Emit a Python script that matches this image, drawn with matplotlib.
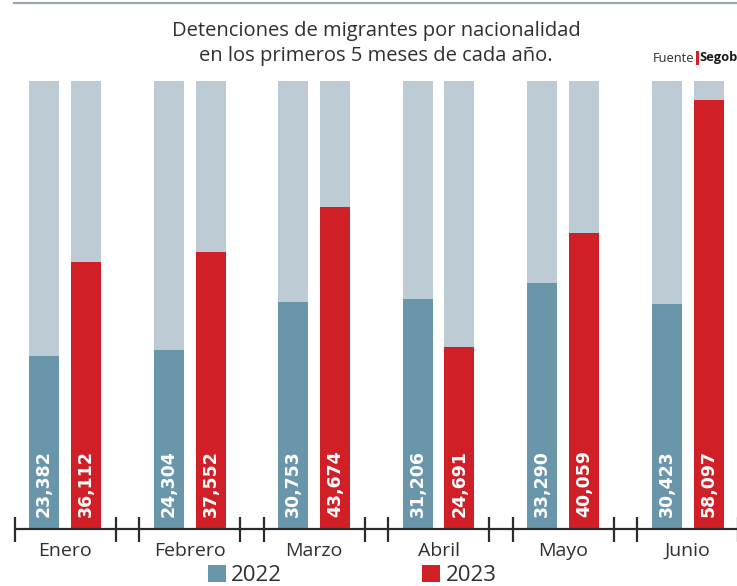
import matplotlib
matplotlib.use("Agg")
import matplotlib.pyplot as plt
from matplotlib.patches import Patch, Rectangle
from matplotlib.lines import Line2D
import numpy as np

# ---- data ----
months = ['Enero', 'Febrero', 'Marzo', 'Abril', 'Mayo', 'Junio']
v2022 = [23382, 24304, 30753, 31206, 33290, 30423]
v2023 = [36112, 37552, 43674, 24691, 40059, 58097]
bg_value = 60700
series_labels = ['2022', '2023']

c_bg = '#bccbd4'
c_22 = '#6a96ab'
c_23 = '#d01f26'
c_axis = '#2b2b2b'
c_text = '#2f2f2f'

W, H = 737, 586
fig = plt.figure(figsize=(W / 100, H / 100), dpi=100)
plt.rcParams['font.family'] = ['Open Sans', 'DejaVu Sans']

def fx(px):
    return px / W

def fy(py):
    return 1 - py / H

# axes: baseline at y=529 px, x mapping month index -> 65 + 124.5*i px
base_px = 529
ax = fig.add_axes([0, fy(base_px), 1, base_px / H])
px_per_unit = 124.5
x0 = 65
ax.set_xlim(-x0 / px_per_unit, (W - x0) / px_per_unit)
val_per_px = 1000 / 7.38
ax.set_ylim(0, base_px * val_per_px)
ax.axis('off')

x = np.arange(len(months))
off = 21 / px_per_unit
bw = 30 / px_per_unit

ax.bar(x - off, [bg_value] * len(months), width=bw, color=c_bg, linewidth=0)
ax.bar(x + off, [bg_value] * len(months), width=bw, color=c_bg, linewidth=0)
ax.bar(x - off, v2022, width=bw, color=c_22, linewidth=0)
ax.bar(x + off, v2023, width=bw, color=c_23, linewidth=0)

def fmt(v):
    return f"{v:,}"

for i in range(len(months)):
    for xx, v in ((x[i] - off, v2022[i]), (x[i] + off, v2023[i])):
        ax.annotate(fmt(v), xy=(xx, 0), xytext=(0, 12 * 0.72), textcoords='offset points',
                    rotation=90, ha='center', va='bottom', color='white',
                    fontsize=12.5, fontweight='bold', family='DejaVu Sans')

# axis line and ticks
ax.plot([-(x0 - 14) / px_per_unit, (W - x0) / px_per_unit], [0, 0], color=c_axis,
        lw=1.6, clip_on=False, solid_capstyle='butt')
half = 50.5 / px_per_unit
for i in range(len(months)):
    for t in (x[i] - half, x[i] + half):
        ax.plot([t, t], [12 * val_per_px, -13 * val_per_px], color=c_axis, lw=1.6,
                clip_on=False, solid_capstyle='butt')
    ax.annotate(months[i], xy=(x[i], 0), xytext=(0, -22 * 0.72), textcoords='offset points',
                ha='center', va='center', fontsize=14, color=c_text, annotation_clip=False)

# top rule
fig.add_artist(Line2D([fx(14), 1], [fy(3), fy(3)], color='#93a9ba', lw=1.6))

# title
fig.text(fx(376), fy(31), 'Detenciones de migrantes por nacionalidad', ha='center', va='center',
         fontsize=14.5, color=c_text)
fig.text(fx(376), fy(56), 'en los primeros 5 meses de cada año.', ha='center', va='center',
         fontsize=14.5, color=c_text)

# source
t1 = fig.text(fx(653), fy(58), 'Fuente', ha='left', va='center', fontsize=9.3, color=c_text)
fig.canvas.draw()
r = fig.canvas.get_renderer()
bb = t1.get_window_extent(r)
bar_x = bb.x1 + 1
fig.add_artist(Rectangle((bar_x / W, fy(65)), 3 / W, 14 / H, facecolor=c_23,
                         edgecolor='none', transform=fig.transFigure))
fig.text((bar_x + 4) / W, fy(58), 'Segob', ha='left', va='center', fontsize=9.3,
         color='#1a1a1a', fontweight='bold')

# legend
handles = [Patch(facecolor=c_22, edgecolor='none'), Patch(facecolor=c_23, edgecolor='none')]
fig.legend(handles, series_labels, ncol=2, frameon=False, loc='center',
           bbox_to_anchor=(fx(352), fy(575.5)), fontsize=16, handlelength=0.81,
           handleheight=0.81, handletextpad=0.25, columnspacing=6.3,
           labelcolor=c_text, borderpad=0, borderaxespad=0)

fig.savefig('out.png', dpi=100)
